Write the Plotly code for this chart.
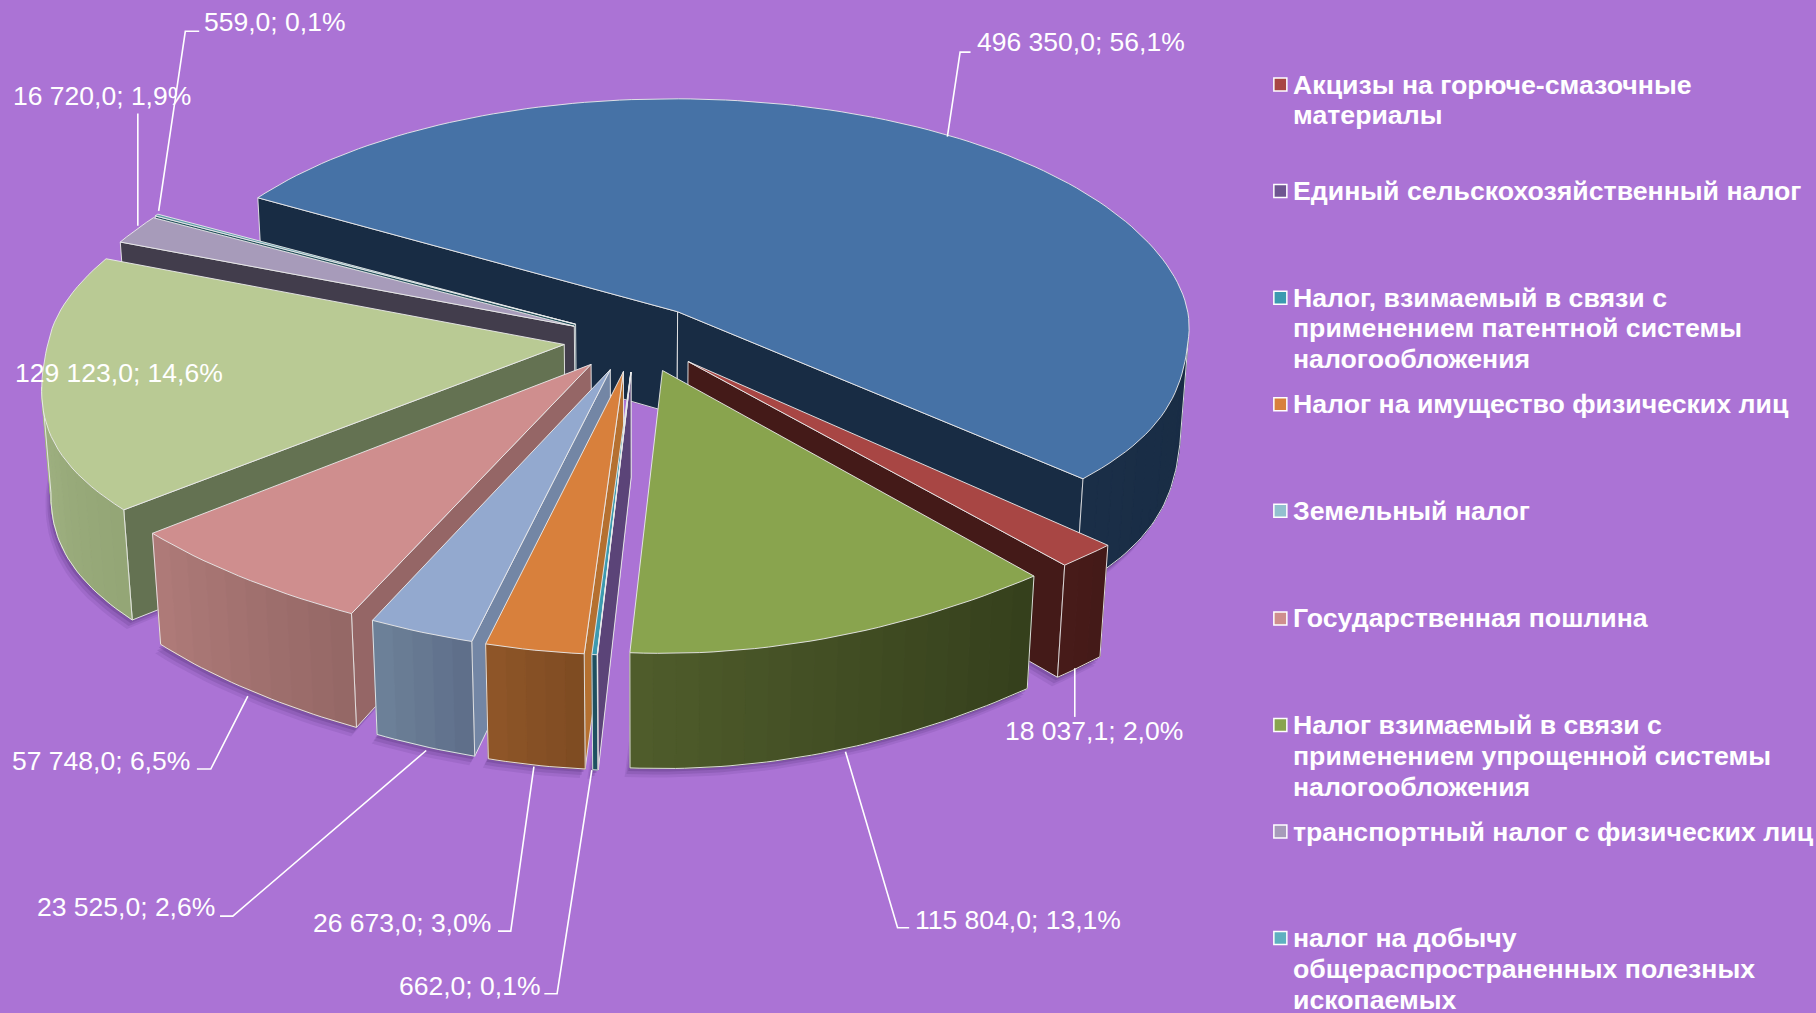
import numpy as np
import plotly.graph_objects as go

# ---- data (clockwise drawing order starts at the big slice) ----
slice_names = ["Налог на доходы физических лиц", "Акцизы на горюче-смазочные материалы",
               "Налог взимаемый в связи с применением упрощенной системы налогообложения",
               "Единый сельскохозяйственный налог", "Налог, взимаемый в связи с применением патентной системы налогообложения",
               "Налог на имущество физических лиц", "Земельный налог", "Государственная пошлина",
               "Налог на прибыль", "транспортный налог с физических лиц",
               "налог на добычу общераспространенных полезных ископаемых"]
slice_values = [496350.0, 18037.1, 115804.0, 60.0, 662.0, 26673.0, 23525.0, 57748.0, 129123.0, 16720.0, 559.0]
slice_percent = ["56,1%", "2,0%", "13,1%", "", "0,1%", "3,0%", "2,6%", "6,5%", "14,6%", "1,9%", "0,1%"]
top_colors = ["#4672A6", "#A84644", "#89A44E", "#6F5591", "#3C9AB0", "#D8803C", "#93A9CF", "#CF8E8E", "#B9CA94", "#A79BBA", "#5F9EA8"]
wall_colors = ["#182C44", "#441A18", "#3A4520", "#5B4478", "#1E5060", "#B57030", "#7386A5", "#956666", "#647252", "#423D4C", "#2A5560"]
rim_light = ["#1A2E47", "#471B19", "#4F5C2B", "#3F2F5A", "#1E5A68", "#8E5528", "#6C8098", "#AE7A78", "#A0B282", "#423D4C", "#2A5560"]
rim_dark = ["#182C44", "#441A18", "#35401C", "#3A2B55", "#1E5060", "#7F4C22", "#5F6F8A", "#956866", "#94A676", "#423D4C", "#2A5560"]
legend_names = ["Акцизы на горюче-смазочные<br>материалы", "Единый сельскохозяйственный налог",
                "Налог, взимаемый в связи с<br>применением патентной системы<br>налогообложения",
                "Налог на имущество физических лиц", "Земельный налог", "Государственная пошлина",
                "Налог взимаемый в связи с<br>применением упрощенной системы<br>налогообложения",
                "транспортный налог с физических лиц",
                "налог на добычу<br>общераспространенных полезных<br>ископаемых"]
legend_colors = ["#A84644", "#6F5591", "#3C9AB0", "#D8803C", "#93C0CF", "#CF8E8E", "#89A44E", "#A79BBA", "#5FB0C0"]

BG = "#AB73D5"
K = 1816 / 1568
START, EXPLODE, THICK = 289.6, 0.149, 0.231
ELEV, DIST, SCALE, CX, CY = np.radians(27.8), 7.0, 515.0, 639.0, 336.0
cam_y, cam_z = -DIST * np.cos(ELEV), DIST * np.sin(ELEV)
# the reference's 3-D engine distorts the angles a little: degrees from pie start -> offset
WARP_AT = [0, 201.9, 209.2, 256.3, 256.7, 267.5, 277, 300.5, 353, 359.8, 360]
WARP_BY = [9.9, 1.9, 0.1, -2.3, -1.85, -2.2, -0.8, 0.6, 9.2, 9.6, 9.9]
# per-slice adjustment of the pull-out: x factor for the whole slice, y factor for the apex only
PULL_X = {1: 0.9, 9: 0.88, 10: 0.88}
APEX_Y = {0: 0.8}


def project(X, Y, Z):
    X, Y, Z = np.asarray(X, float), np.asarray(Y, float), np.asarray(Z, float)
    d = DIST + Y * np.cos(ELEV) - Z * np.sin(ELEV)
    k = np.cos(ELEV) / DIST
    kx = 0.075 + 0.045 * np.tanh(Y / 0.3)
    g = (1 + k * Y) / (1 + kx * Y)
    t = np.clip(-Y / 0.9, 0, 1)
    fx = X * (1 + np.where(X > 0, 0.125, 0.095) * X ** 2 * t * t * (3 - 2 * t))
    squash = 0.995 - 0.005 * np.tanh(-Y / 0.3)
    return CX + SCALE * DIST * fx * g / d, CY - SCALE * DIST * (Y * np.sin(ELEV) * squash + Z * np.cos(ELEV)) / d


def mix(a, b, t):
    ca = [int(a[i:i + 2], 16) for i in (1, 3, 5)]
    cb = [int(b[i:i + 2], 16) for i in (1, 3, 5)]
    return "rgb(%d,%d,%d)" % tuple(round(p + (q - p) * t) for p, q in zip(ca, cb))


total = sum(slice_values)
fractions = [v / total for v in slice_values]
base = 360 * np.cumsum([0] + fractions)
edges = START + base + np.interp(base, WARP_AT, WARP_BY)
fig = go.Figure()


def poly(x, y, fill, line=None, width=1, name=""):
    fig.add_trace(go.Scatter(x=list(x) + [x[0]], y=list(y) + [y[0]], mode="lines", fill="toself",
                             fillcolor=fill, line=dict(color=line or fill, width=width),
                             name=name, hoverinfo="name", showlegend=False))


def arc(a0, a1, step=1.5):
    return np.linspace(a0, a1, max(2, int(abs(a1 - a0) / step) + 2))


def geom(i):
    a0, a1 = edges[i], edges[i + 1]
    m = np.radians(START + (base[i] + base[i + 1]) / 2)
    ay = EXPLODE * np.cos(m)
    return a0, a1, EXPLODE * np.sin(m) * PULL_X.get(i, 1), ay, ay * APEX_Y.get(i, 1)


# soft shadows under the outer walls
for i in range(len(slice_values)):
    a0, a1, ax, ay, py0 = geom(i)
    a = np.radians(arc(a0, a1))
    for off, alpha in ((9, .10), (6, .14), (3, .2)):
        sx, sy = project(ax + np.sin(a), ay + np.cos(a), -THICK * np.ones_like(a))
        bx, by = project(ax, py0, -THICK)
        poly(list(sx - off * .6) + [bx], list(sy + off) + [by], "rgba(60,30,95,%.2f)" % alpha, "rgba(0,0,0,0)")

EDGE = "rgba(235,235,235,0.9)"
# draw order: back to front, left to right
order = [0, 10, 9, 8, 7, 6, 5, 4, 3, 1, 2]
for i in order:
    a0, a1, ax, ay, py0 = geom(i)
    nm = slice_names[i]
    # radial walls that face the viewer
    for ang, sign in ((a0, -1), (a1, 1)):
        r = np.radians(ang)
        nx, ny = sign * np.cos(r), -sign * np.sin(r)
        if nx * (0 - ax) + ny * (cam_y - ay) > 0:
            X = [ax, ax + np.sin(r), ax + np.sin(r), ax]
            Y = [py0, ay + np.cos(r), ay + np.cos(r), py0]
            Z = [0, 0, -THICK, -THICK]
            px, py = project(X, Y, Z)
            poly(px, py, wall_colors[i], EDGE, 1, nm)
    # outer wall: visible part only, shaded in bands
    a = arc(a0, a1, 2.5)
    vis = []
    for p, q in zip(a[:-1], a[1:]):
        r = np.radians((p + q) / 2)
        if np.sin(r) * (0 - ax - np.sin(r)) + np.cos(r) * (cam_y - ay - np.cos(r)) > 0:
            vis.append((p, q))
    for k, (p, q) in enumerate(vis):
        ang = np.radians(arc(p, q, 1))
        tx, ty = project(ax + np.sin(ang), ay + np.cos(ang), 0 * ang)
        bx, by = project(ax + np.sin(ang), ay + np.cos(ang), -THICK + 0 * ang)
        poly(list(tx) + list(bx[::-1]), list(ty) + list(by[::-1]),
             mix(rim_dark[i], rim_light[i], k / max(1, len(vis) - 1)), None, 1, nm)
    if vis:
        ang = np.radians(arc(vis[0][0], vis[-1][1], 1))
        bx, by = project(ax + np.sin(ang), ay + np.cos(ang), -THICK + 0 * ang)
        fig.add_trace(go.Scatter(x=bx, y=by, mode="lines", line=dict(color=EDGE, width=1), hoverinfo="skip", showlegend=False))
        for e in (ang[0], ang[-1]):
            ex, ey = project(ax + np.sin(e) * np.array([1, 1]), ay + np.cos(e) * np.array([1, 1]), np.array([0, -THICK]))
            fig.add_trace(go.Scatter(x=ex, y=ey, mode="lines", line=dict(color=EDGE, width=1), hoverinfo="skip", showlegend=False))
    # top face
    ang = np.radians(arc(a0, a1))
    tx, ty = project(ax + np.sin(ang), ay + np.cos(ang), 0 * ang)
    apx, apy = project(ax, py0, 0.0)
    poly([apx] + list(tx), [apy] + list(ty), top_colors[i], EDGE, 1, nm)


def fmt(i):
    return f"{slice_values[i]:,.1f}".replace(",", " ").replace(".", ",") + "; " + slice_percent[i]


# data labels: (slice index, left, middle) and leader lines in reference layout units
label_pos = {0: (842, 36), 10: (174.5, 19), 9: (9.5, 83), 8: (11.5, 322), 1: (866, 631),
             2: (788, 794), 4: (343, 851), 5: (268.5, 797), 6: (30, 783), 7: (9, 657)}
leaders = [[(818, 118), (829, 45), (838, 45)], [(137, 182), (160, 27), (172, 27)], [(119, 195), (119, 98)],
           [(928, 577), (928, 619)], [(730, 649), (775, 801), (785, 801)], [(511, 665), (481, 858), (470, 858)],
           [(461, 662), (441, 804), (430, 804)], [(368, 648), (201, 791), (190, 791)],
           [(214, 601), (182, 664), (170, 664)]]
for pts in leaders:
    fig.add_trace(go.Scatter(x=[p[0] * K for p in pts], y=[p[1] * K for p in pts], mode="lines",
                             line=dict(color="white", width=1.6), hoverinfo="skip", showlegend=False))
ann = []
for i, (lx, ly) in label_pos.items():
    ann.append(dict(x=lx * K, y=ly * K, text=fmt(i), showarrow=False, xanchor="left", yanchor="middle",
                    font=dict(family="Liberation Sans", size=26.5, color="white")))

# legend
leg_y = [73, 165, 257, 349, 441, 534, 626, 718, 810]
fig.add_trace(go.Scatter(x=[1105.5 * K] * len(leg_y), y=[v * K for v in leg_y], mode="markers", hoverinfo="skip", showlegend=False,
                         marker=dict(symbol="square", size=13, color=legend_colors, line=dict(color="white", width=1.5))))
for name, yy in zip(legend_names, leg_y):
    for n, part in enumerate(name.split("<br>")):
        ann.append(dict(x=1115 * K, y=(yy + n * 26.6) * K, text=part, showarrow=False, xanchor="left", yanchor="middle",
                        font=dict(family="Liberation Sans", size=26.7, color="white", weight="bold")))

fig.update_layout(width=1816, height=1013, margin=dict(l=0, r=0, t=0, b=0), paper_bgcolor=BG, plot_bgcolor=BG,
                  xaxis=dict(range=[0, 1816], visible=False, fixedrange=True),
                  yaxis=dict(range=[1013, 0], visible=False, fixedrange=True),
                  showlegend=False, annotations=ann, hovermode="closest")
fig.write_html("out.html", config=dict(displayModeBar=False),
               post_script="document.body.style.margin='0';document.body.style.overflow='hidden';document.body.style.background='%s';" % BG)
